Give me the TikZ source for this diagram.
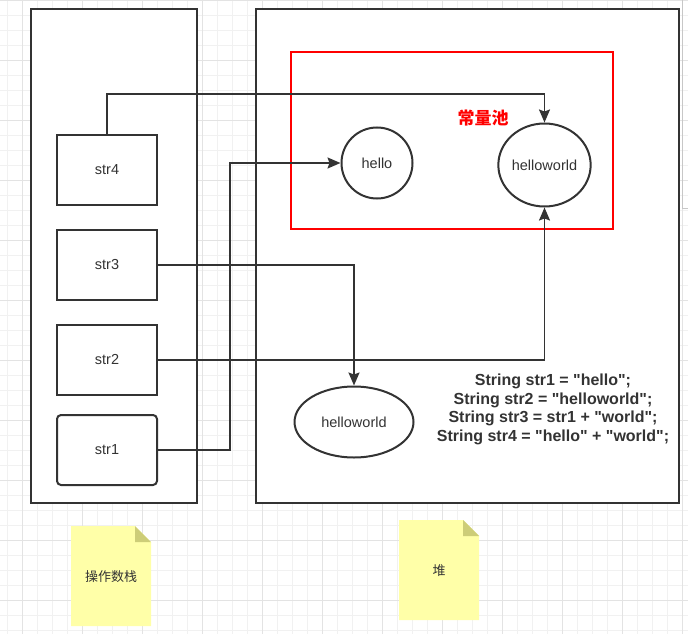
\documentclass[tikz,border=0pt]{standalone}
\usepackage{fontspec}
\setmainfont{Liberation Sans}
\newfontfamily\codefont{Liberation Sans}
\newfontfamily\cjk{Noto Sans CJK SC}
\usepackage{tikz}
\usetikzlibrary{arrows.meta,positioning,calc,shapes.geometric}
\definecolor{ddark}{HTML}{333333}
\definecolor{pred}{HTML}{FF0000}
\definecolor{gminor}{HTML}{F1F1F1}
\definecolor{gmajor}{HTML}{E3E3E3}
\definecolor{nfill}{HTML}{FFFFA8}
\definecolor{nfold}{HTML}{CDCD78}

\begin{document}
\begin{tikzpicture}[x=1pt,y=-1pt,
  frame/.style={draw=ddark,fill=white,line width=2pt},
  slot/.style={draw=ddark,fill=white,line width=2pt,minimum width=100pt,
    minimum height=70pt,inner sep=0pt,text=ddark,font=\fontsize{14.5}{16}\selectfont},
  obj/.style={draw=ddark,fill=white,line width=2pt,inner sep=0pt,text=ddark,
    font=\fontsize{14.5}{16}\selectfont},
  arr/.style={-{Stealth[length=13pt,width=11pt,inset=2pt]},draw=ddark,line width=1.6pt}]
\useasboundingbox (0,0) rectangle (688,634);
% grid background
\fill[white] (0,0) rectangle (688,634);
\foreach \i in {0,...,45}{
  \draw[gminor,line width=0.8pt] (7.7+15*\i,0) -- (7.7+15*\i,634);
}
\foreach \i in {0,...,42}{
  \draw[gminor,line width=0.8pt] (0,0.7+15*\i) -- (688,0.7+15*\i);
}
\foreach \i in {0,...,11}{
  \draw[gmajor,line width=0.8pt] (22.7+60*\i,0) -- (22.7+60*\i,634);
  \draw[gmajor,line width=0.8pt] (0,0.7+60*\i) -- (688,0.7+60*\i);
}
\draw[black!22,line width=0.8pt] (682,0) -- (682,208) -- (688,208);
% operand stack and heap
\draw[frame] (31,9) rectangle (197,503);
\draw[frame] (256,9) rectangle (679,503);
\draw[pred,line width=2pt] (291,52) rectangle (613,229);
\node[text=pred,font=\cjk\bfseries\fontsize{17}{19}\selectfont] (pool) at (483,118) {常量池};
% stack slots
\node[slot] (str4) at (107,170) {str4};
\node[slot] (str3) at (107,265) {str3};
\node[slot] (str2) at (107,360) {str2};
\node[slot,rounded corners=4pt] (str1) at (107,450) {str1};
% string objects
\node[obj,circle,minimum size=71pt] (hello) at (377,163) {hello};
\node[obj,ellipse,minimum width=90pt,minimum height=83pt] (hw) at (544.5,165) {helloworld};
\node[obj,ellipse,minimum width=119pt,minimum height=71pt] (heaphw) at (354,422) {helloworld};
% references
\draw[arr] (str4.north) -- ++(0,-40) -| (hw.north);
\draw[arr] (str1.east) -- ++(72,0) |- (hello.west);
\draw[arr] (str3.east) -| (heaphw.north);
\draw[arr] (str2.east) -| (hw.south);
% code
\node[align=center,text=ddark,font=\codefont\bfseries\fontsize{16}{18.7}\selectfont] (code) at (553,409.5)
  {String str1 = "hello";\\String str2 = "helloworld";\\String str3 = str1 + "world";\\String str4 = "hello" + "world";};
% notes
\foreach \x/\y/\t in {71/526/操作数栈,399/520/堆}{
  \fill[nfill] (\x,\y) -- ++(64,0) -- ++(16,16) -- ++(0,84) -- ++(-80,0) -- cycle;
  \fill[nfold] (\x+64,\y) -- ++(16,16) -- ++(-16,0) -- cycle;
  \node[text=ddark,font=\cjk\fontsize{13}{15}\selectfont] at (\x+40,\y+51) {\t};
}
\end{tikzpicture}
\end{document}
